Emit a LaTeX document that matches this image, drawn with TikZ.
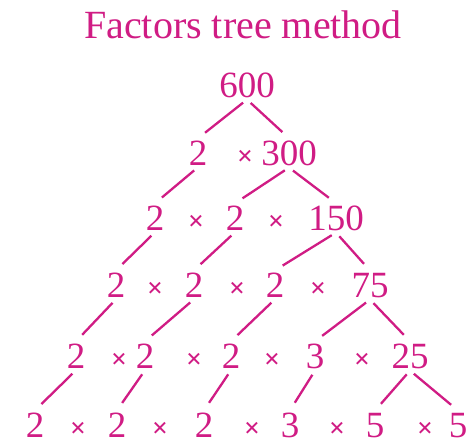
\documentclass[tikz,border=0pt]{standalone}
\usepackage{fontspec}
\setmainfont{Liberation Serif}
\usepackage{xcolor}
\usepackage{tikz}
\usetikzlibrary{positioning}

\definecolor{treepink}{RGB}{208,28,132}

\begin{document}
\begin{tikzpicture}[x=1pt, y=-1pt,
        num/.style={anchor=base, inner sep=2pt, text=treepink, font=\fontsize{37}{40}\selectfont},
        times/.style={num, font=\fontsize{28}{30}\selectfont\bfseries},
        branch/.style={draw=treepink, line width=2.3pt, shorten <=5pt, shorten >=9pt}]
        \useasboundingbox (0,0) rectangle (470,447);

        % Title
        \node (title) [num, font=\fontsize{40}{42}\selectfont] at (243,38) {Factors tree method};

        % Nodes
        \node (r0n1) [num] at (247,97) {600};

        \node (r1n1) [num] at (198,165) {2};
        \node (r1x1) [times] at (245,165) {×};
        \node (r1n2) [num] at (289,165) {300};

        \node (r2n1) [num] at (155,230) {2};
        \node (r2x1) [times] at (196,230) {×};
        \node (r2n2) [num] at (235,230) {2};
        \node (r2x2) [times] at (276,230) {×};
        \node (r2n3) [num] at (336,230) {150};

        \node (r3n1) [num] at (116,297) {2};
        \node (r3x1) [times] at (155,297) {×};
        \node (r3n2) [num] at (194,297) {2};
        \node (r3x2) [times] at (237,297) {×};
        \node (r3n3) [num] at (275,297) {2};
        \node (r3x3) [times] at (318,297) {×};
        \node (r3n4) [num] at (370,297) {75};

        \node (r4n1) [num] at (76,368) {2};
        \node (r4x1) [times] at (119,368) {×};
        \node (r4n2) [num] at (145,368) {2};
        \node (r4x2) [times] at (194,368) {×};
        \node (r4n3) [num] at (231,368) {2};
        \node (r4x3) [times] at (272,368) {×};
        \node (r4n4) [num] at (315,368) {3};
        \node (r4x4) [times] at (362,368) {×};
        \node (r4n5) [num] at (410,368) {25};

        \node (r5n1) [num] at (35,437) {2};
        \node (r5x1) [times] at (78,437) {×};
        \node (r5n2) [num] at (117,437) {2};
        \node (r5x2) [times] at (160,437) {×};
        \node (r5n3) [num] at (204,437) {2};
        \node (r5x3) [times] at (252,437) {×};
        \node (r5n4) [num] at (290,437) {3};
        \node (r5x4) [times] at (337,437) {×};
        \node (r5n5) [num] at (375,437) {5};
        \node (r5x5) [times] at (425,437) {×};
        \node (r5n6) [num] at (458,437) {5};

        % Branches
        \draw[branch] (r0n1.south) -- (r1n1.north);
        \draw[branch] (r0n1.south) -- (r1n2.north);

        \draw[branch] (r1n1.south) -- (r2n1.north);
        \draw[branch] (r1n2.south) -- (r2n2.north);
        \draw[branch] (r1n2.south) -- (r2n3.north);

        \draw[branch] (r2n1.south) -- (r3n1.north);
        \draw[branch] (r2n2.south) -- (r3n2.north);
        \draw[branch] (r2n3.south) -- (r3n3.north);
        \draw[branch] (r2n3.south) -- (r3n4.north);

        \draw[branch] (r3n1.south) -- (r4n1.north);
        \draw[branch] (r3n2.south) -- (r4n2.north);
        \draw[branch] (r3n3.south) -- (r4n3.north);
        \draw[branch] (r3n4.south) -- (r4n4.north);
        \draw[branch] (r3n4.south) -- (r4n5.north);

        \draw[branch] (r4n1.south) -- (r5n1.north);
        \draw[branch] (r4n2.south) -- (r5n2.north);
        \draw[branch] (r4n3.south) -- (r5n3.north);
        \draw[branch] (r4n4.south) -- (r5n4.north);
        \draw[branch] (r4n5.south) -- (r5n5.north);
        \draw[branch] (r4n5.south) -- (r5n6.north);

    \end{tikzpicture}
\end{document}
